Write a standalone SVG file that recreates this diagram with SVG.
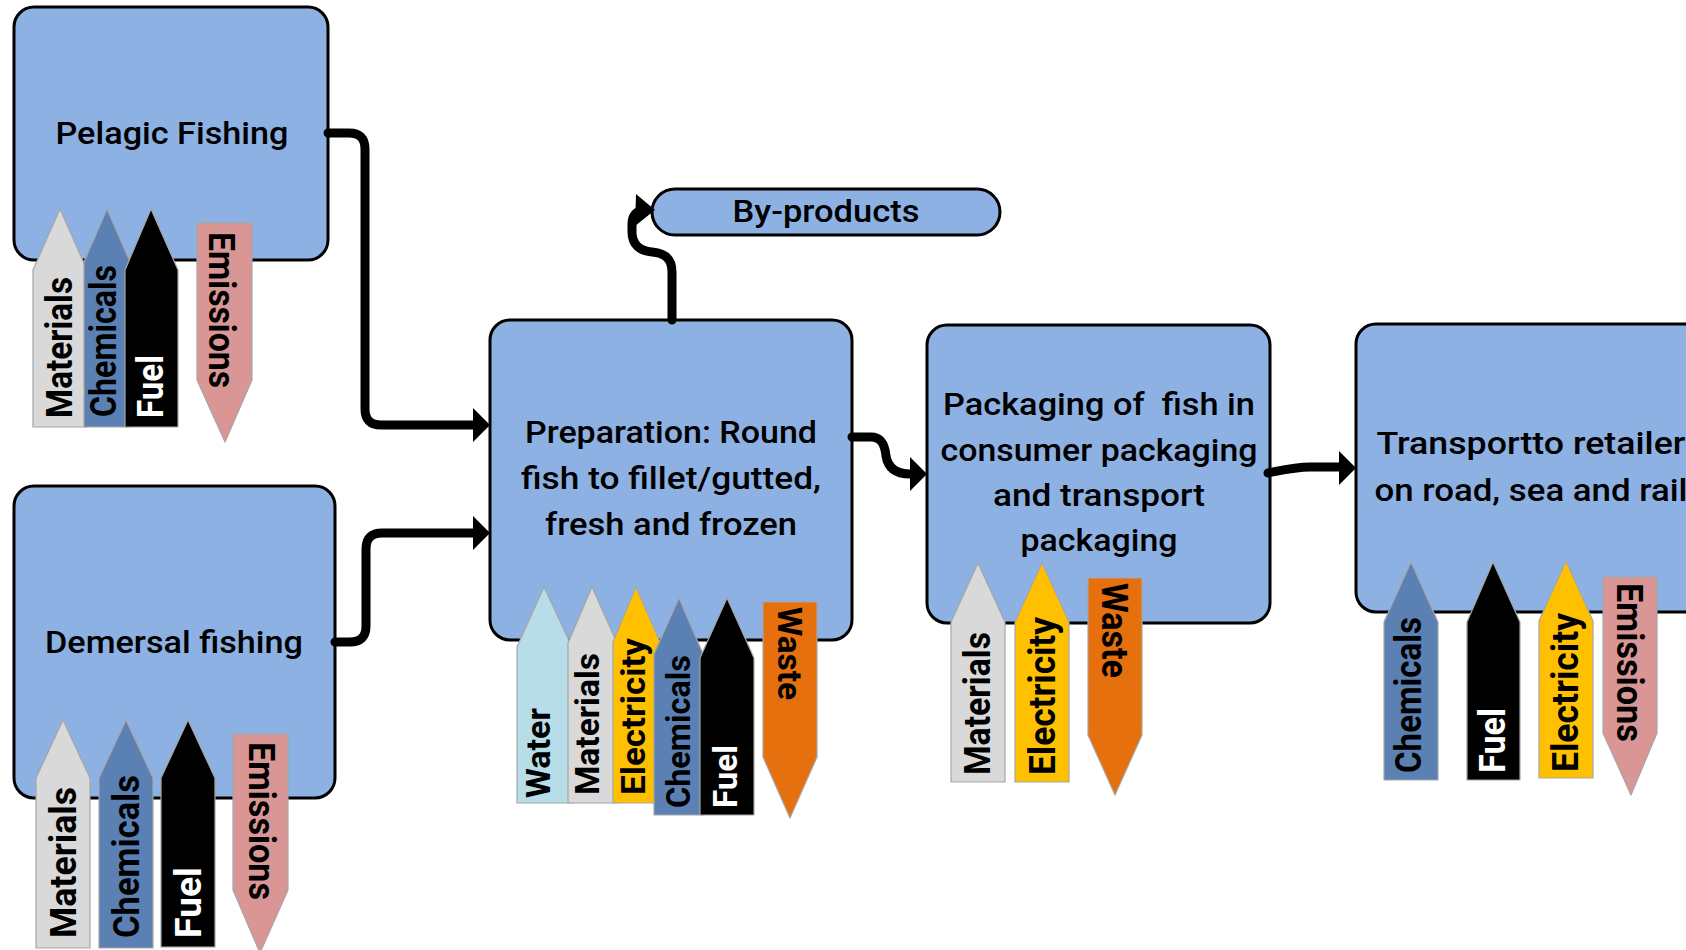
<svg xmlns="http://www.w3.org/2000/svg" width="1686" height="950" viewBox="0 0 1686 950">
<style>
.box{fill:#8EB1E3;stroke:#000;stroke-width:3}
.lbl{font-family:Roboto,"DejaVu Sans",sans-serif;font-weight:500;font-size:32px;fill:#000;text-anchor:middle;white-space:pre}
.at{font-family:Roboto,"DejaVu Sans",sans-serif;font-weight:700;font-size:36px;fill:#000}
.sm{font-size:33px}
.w{fill:#fff}
.tag{stroke:#A6A6A6;stroke-width:1.2;stroke-linejoin:round}
.mat{fill:#D9D9D9}.che{fill:#5A80B4}.fue{fill:#000}.emi{fill:#D99694}.ele{fill:#FFC000}.wat{fill:#B7DEE8}.was{fill:#E66F0E}
.con{fill:none;stroke:#000;stroke-width:9;stroke-linecap:round;stroke-linejoin:round}
.ah{fill:#000}
</style>
<rect width="1686" height="950" fill="#fff"/>

<g id="pelagic">
<rect class="box" x="14" y="7" width="314" height="253" rx="20"/>
<text class="lbl" x="172" y="144" textLength="233" lengthAdjust="spacingAndGlyphs">Pelagic Fishing</text>
<polygon class="tag mat" points="33,270 60,209 87,270 87,427 33,427"/>
<polygon class="tag che" points="84,262 107,209 130,262 130,427 84,427"/>
<polygon class="tag fue" points="125,270 151,209 178,270 178,427 125,427"/>
<polygon class="tag emi" points="197,223 252,223 252,380 225,442 197,380"/>
<text class="at" transform="translate(72,418) rotate(-90)" textLength="141" lengthAdjust="spacingAndGlyphs">Materials</text>
<text class="at" transform="translate(116,417) rotate(-90)" textLength="152" lengthAdjust="spacingAndGlyphs">Chemicals</text>
<text class="at w" transform="translate(163,418) rotate(-90)" textLength="63" lengthAdjust="spacingAndGlyphs">Fuel</text>
<text class="at" transform="translate(209,232) rotate(90)" textLength="156" lengthAdjust="spacingAndGlyphs">Emissions</text>
</g>

<g id="demersal">
<rect class="box" x="14" y="486" width="321" height="312" rx="20"/>
<text class="lbl" x="174" y="653" textLength="258" lengthAdjust="spacingAndGlyphs">Demersal fishing</text>
<polygon class="tag mat" points="36,778 63,720 90,778 90,948 36,948"/>
<polygon class="tag che" points="99,778 126,720 153,778 153,948 99,948"/>
<polygon class="tag fue" points="161,778 188,720 215,778 215,947 161,947"/>
<polygon class="tag emi" points="233,734 288,734 288,890 260,953 233,890"/>
<text class="at" transform="translate(76,938) rotate(-90)" textLength="151" lengthAdjust="spacingAndGlyphs">Materials</text>
<text class="at" transform="translate(139,938) rotate(-90)" textLength="163" lengthAdjust="spacingAndGlyphs">Chemicals</text>
<text class="at w" transform="translate(201,938) rotate(-90)" textLength="71" lengthAdjust="spacingAndGlyphs">Fuel</text>
<text class="at" transform="translate(249,742) rotate(90)" textLength="158" lengthAdjust="spacingAndGlyphs">Emissions</text>
</g>

<g id="byproducts">
<rect class="box" x="652" y="189" width="348" height="46" rx="23"/>
<text class="lbl" x="826" y="222" textLength="187" lengthAdjust="spacingAndGlyphs">By-products</text>
</g>

<g id="preparation">
<rect class="box" x="490" y="320" width="362" height="320" rx="20"/>
<text class="lbl" x="671" y="443" textLength="292" lengthAdjust="spacingAndGlyphs">Preparation: Round</text>
<text class="lbl" x="671" y="489" textLength="300" lengthAdjust="spacingAndGlyphs">fish to fillet/gutted,</text>
<text class="lbl" x="671" y="535" textLength="252" lengthAdjust="spacingAndGlyphs">fresh and frozen</text>
<polygon class="tag wat" points="517,647 544,587 572,647 572,803 517,803"/>
<polygon class="tag mat" points="568,643 592,587 617,643 617,803 568,803"/>
<polygon class="tag ele" points="613,642 636,587 660,642 660,803 613,803"/>
<polygon class="tag che" points="654,654 679,598 703,654 703,815 654,815"/>
<polygon class="tag fue" points="700,658 727,598 754,658 754,815 700,815"/>
<polygon class="tag was" points="763,602 817,602 817,757 790,818 763,757"/>
<text class="at sm" transform="translate(550,798) rotate(-90)" textLength="90" lengthAdjust="spacingAndGlyphs">Water</text>
<text class="at sm" transform="translate(599,795) rotate(-90)" textLength="142" lengthAdjust="spacingAndGlyphs">Materials</text>
<text class="at sm" transform="translate(645,795) rotate(-90)" textLength="157" lengthAdjust="spacingAndGlyphs">Electricity</text>
<text class="at sm" transform="translate(690,808) rotate(-90)" textLength="153" lengthAdjust="spacingAndGlyphs">Chemicals</text>
<text class="at sm w" transform="translate(737,808) rotate(-90)" textLength="63" lengthAdjust="spacingAndGlyphs">Fuel</text>
<text class="at sm" transform="translate(778,607) rotate(90)" textLength="93" lengthAdjust="spacingAndGlyphs">Waste</text>
</g>

<g id="packaging">
<rect class="box" x="927" y="325" width="343" height="298" rx="20"/>
<text class="lbl" x="1099" y="415" textLength="312" lengthAdjust="spacingAndGlyphs">Packaging of  fish in</text>
<text class="lbl" x="1099" y="461" textLength="317" lengthAdjust="spacingAndGlyphs">consumer packaging</text>
<text class="lbl" x="1099" y="506" textLength="212" lengthAdjust="spacingAndGlyphs">and transport</text>
<text class="lbl" x="1099" y="551" textLength="157" lengthAdjust="spacingAndGlyphs">packaging</text>
<polygon class="tag mat" points="951,622 978,563 1005,622 1005,782 951,782"/>
<polygon class="tag ele" points="1015,622 1042,563 1069,622 1069,782 1015,782"/>
<polygon class="tag was" points="1088,578 1142,578 1142,735 1115,795 1088,735"/>
<text class="at" transform="translate(990,775) rotate(-90)" textLength="143" lengthAdjust="spacingAndGlyphs">Materials</text>
<text class="at" transform="translate(1055,775) rotate(-90)" textLength="158" lengthAdjust="spacingAndGlyphs">Electricity</text>
<text class="at" transform="translate(1102,583) rotate(90)" textLength="95" lengthAdjust="spacingAndGlyphs">Waste</text>
</g>

<g id="transport">
<rect class="box" x="1356" y="324" width="360" height="288" rx="20"/>
<text class="lbl" x="1531" y="454" textLength="309" lengthAdjust="spacingAndGlyphs">Transportto retailer</text>
<text class="lbl" x="1531" y="501" textLength="313" lengthAdjust="spacingAndGlyphs">on road, sea and rail</text>
<polygon class="tag che" points="1384,622 1411,562 1438,622 1438,780 1384,780"/>
<polygon class="tag fue" points="1467,622 1493,562 1520,622 1520,780 1467,780"/>
<polygon class="tag ele" points="1539,621 1566,561 1593,621 1593,778 1539,778"/>
<polygon class="tag emi" points="1603,577 1657,577 1657,733 1631,795 1603,733"/>
<text class="at" transform="translate(1421,773) rotate(-90)" textLength="156" lengthAdjust="spacingAndGlyphs">Chemicals</text>
<text class="at w" transform="translate(1505,773) rotate(-90)" textLength="65" lengthAdjust="spacingAndGlyphs">Fuel</text>
<text class="at" transform="translate(1578,772) rotate(-90)" textLength="159" lengthAdjust="spacingAndGlyphs">Electricity</text>
<text class="at" transform="translate(1617,583) rotate(90)" textLength="159" lengthAdjust="spacingAndGlyphs">Emissions</text>
</g>

<g id="connectors">
<path class="con" d="M328,133 H349 Q365,133 365,149 V409 Q365,425 381,425 H476"/>
<polygon class="ah" points="473,408 490,425 473,442"/>
<path class="con" d="M335,642 H350 Q366,642 366,626 V549 Q366,533 382,533 H476"/>
<polygon class="ah" points="473,516 490,533 473,550"/>
<path class="con" d="M672,320 V272 C672,258 664,253 652,252 C640,251 632,245 632,232 V224 C632,215 637,211 643,210"/>
<polygon class="ah" points="636,194 655,210 635,226"/>
<path class="con" d="M852,437 H871 C882,437 885,446 886,456 C888,468 896,474 910,474"/>
<polygon class="ah" points="910,457 927,474 910,491"/>
<path class="con" d="M1268,473 C1283,470 1295,467 1310,467 H1340"/>
<polygon class="ah" points="1339,451 1356,468 1339,485"/>
</g>
</svg>
